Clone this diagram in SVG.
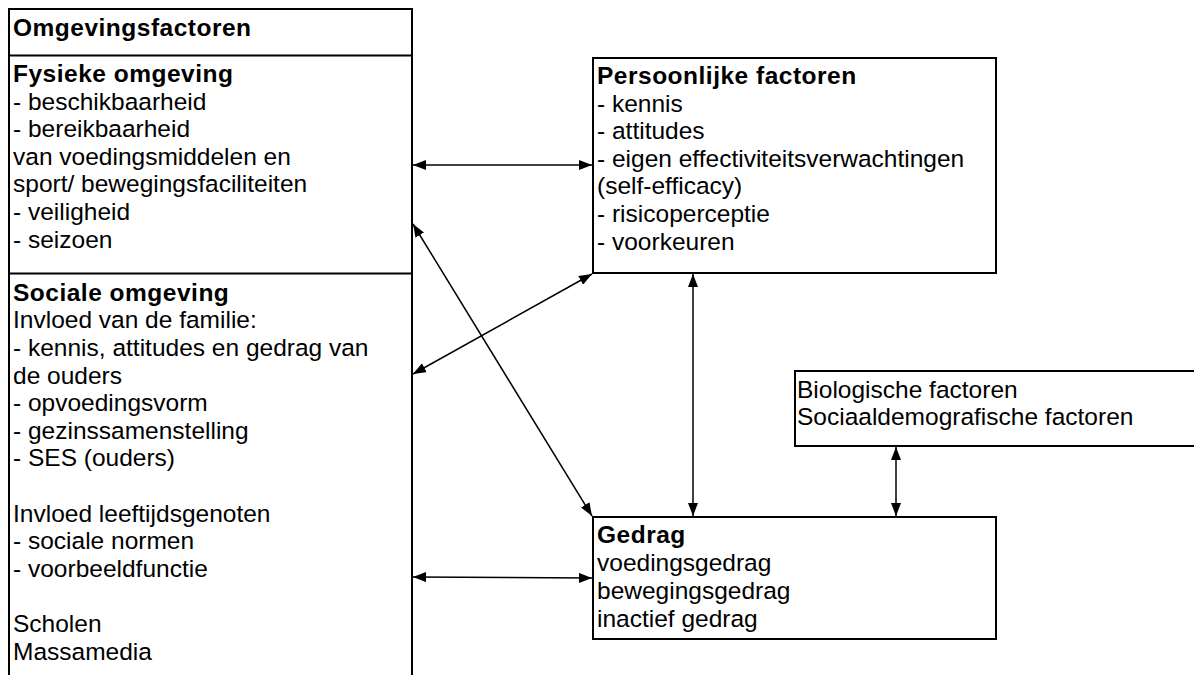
<svg xmlns="http://www.w3.org/2000/svg" width="1194" height="675" viewBox="0 0 1194 675">
<style>
.box{fill:#fff;stroke:#000;stroke-width:2}
.t{font-family:"Liberation Sans",Arial,sans-serif;font-size:24.5px;fill:#000}
.b{font-weight:bold;letter-spacing:0.5px}
.c{stroke:#000;stroke-width:1.5;fill:none;marker-start:url(#ah);marker-end:url(#ah)}
</style>
<defs>
<marker id="ah" viewBox="0 0 13 10" refX="13" refY="5" markerWidth="13" markerHeight="10" markerUnits="userSpaceOnUse" orient="auto-start-reverse">
<path d="M0,0 L13,5 L0,10 z" fill="#000"/>
</marker>
</defs>
<rect width="1194" height="675" fill="#fff"/>
<g id="omgevingsfactoren">
<rect class="box" x="9" y="9" width="403" height="700"/>
<line x1="9" y1="55.5" x2="412" y2="55.5" stroke="#000" stroke-width="2"/>
<line x1="9" y1="273.5" x2="412" y2="273.5" stroke="#000" stroke-width="2"/>
<text class="t b" x="13" y="36">Omgevingsfactoren</text>
<text class="t" x="13">
<tspan class="b" x="13" y="82">Fysieke omgeving</tspan>
<tspan x="13" y="109.6">- beschikbaarheid</tspan>
<tspan x="13" y="137.2">- bereikbaarheid</tspan>
<tspan x="13" y="164.8">van voedingsmiddelen en</tspan>
<tspan x="13" y="192.4">sport/ bewegingsfaciliteiten</tspan>
<tspan x="13" y="220">- veiligheid</tspan>
<tspan x="13" y="247.6">- seizoen</tspan>
</text>
<text class="t" x="13">
<tspan class="b" x="13" y="300.7">Sociale omgeving</tspan>
<tspan x="13" y="328.3">Invloed van de familie:</tspan>
<tspan x="13" y="355.9">- kennis, attitudes en gedrag van</tspan>
<tspan x="13" y="383.5">de ouders</tspan>
<tspan x="13" y="411.1">- opvoedingsvorm</tspan>
<tspan x="13" y="438.7">- gezinssamenstelling</tspan>
<tspan x="13" y="466.3">- SES (ouders)</tspan>
<tspan x="13" y="521.5">Invloed leeftijdsgenoten</tspan>
<tspan x="13" y="549.1">- sociale normen</tspan>
<tspan x="13" y="576.7">- voorbeeldfunctie</tspan>
<tspan x="13" y="631.9">Scholen</tspan>
<tspan x="13" y="659.5">Massamedia</tspan>
</text>
</g>
<g id="persoonlijke">
<rect class="box" x="593" y="58" width="403" height="215"/>
<text class="t" x="597">
<tspan class="b" x="597" y="84">Persoonlijke factoren</tspan>
<tspan x="597" y="111.6">- kennis</tspan>
<tspan x="597" y="139.2">- attitudes</tspan>
<tspan x="597" y="166.8">- eigen effectiviteitsverwachtingen</tspan>
<tspan x="597" y="194.4">(self-efficacy)</tspan>
<tspan x="597" y="222">- risicoperceptie</tspan>
<tspan x="597" y="249.6">- voorkeuren</tspan>
</text>
</g>
<g id="biologische">
<rect class="box" x="795" y="371" width="410" height="75"/>
<text class="t" x="797">
<tspan x="797" y="398">Biologische factoren</tspan>
<tspan x="797" y="425">Sociaaldemografische factoren</tspan>
</text>
</g>
<g id="gedrag">
<rect class="box" x="593" y="517" width="403" height="122"/>
<text class="t" x="597">
<tspan class="b" x="597" y="543">Gedrag</tspan>
<tspan x="597" y="571">voedingsgedrag</tspan>
<tspan x="597" y="599">bewegingsgedrag</tspan>
<tspan x="597" y="627">inactief gedrag</tspan>
</text>
</g>
<g id="connectors">
<line class="c" x1="413" y1="165" x2="592" y2="165"/>
<line class="c" x1="413" y1="224" x2="592" y2="516"/>
<line class="c" x1="592" y1="274" x2="413" y2="374"/>
<line class="c" x1="693" y1="274" x2="693" y2="516"/>
<line class="c" x1="896" y1="447" x2="896" y2="516"/>
<line class="c" x1="413" y1="577" x2="592" y2="578"/>
</g>
</svg>
